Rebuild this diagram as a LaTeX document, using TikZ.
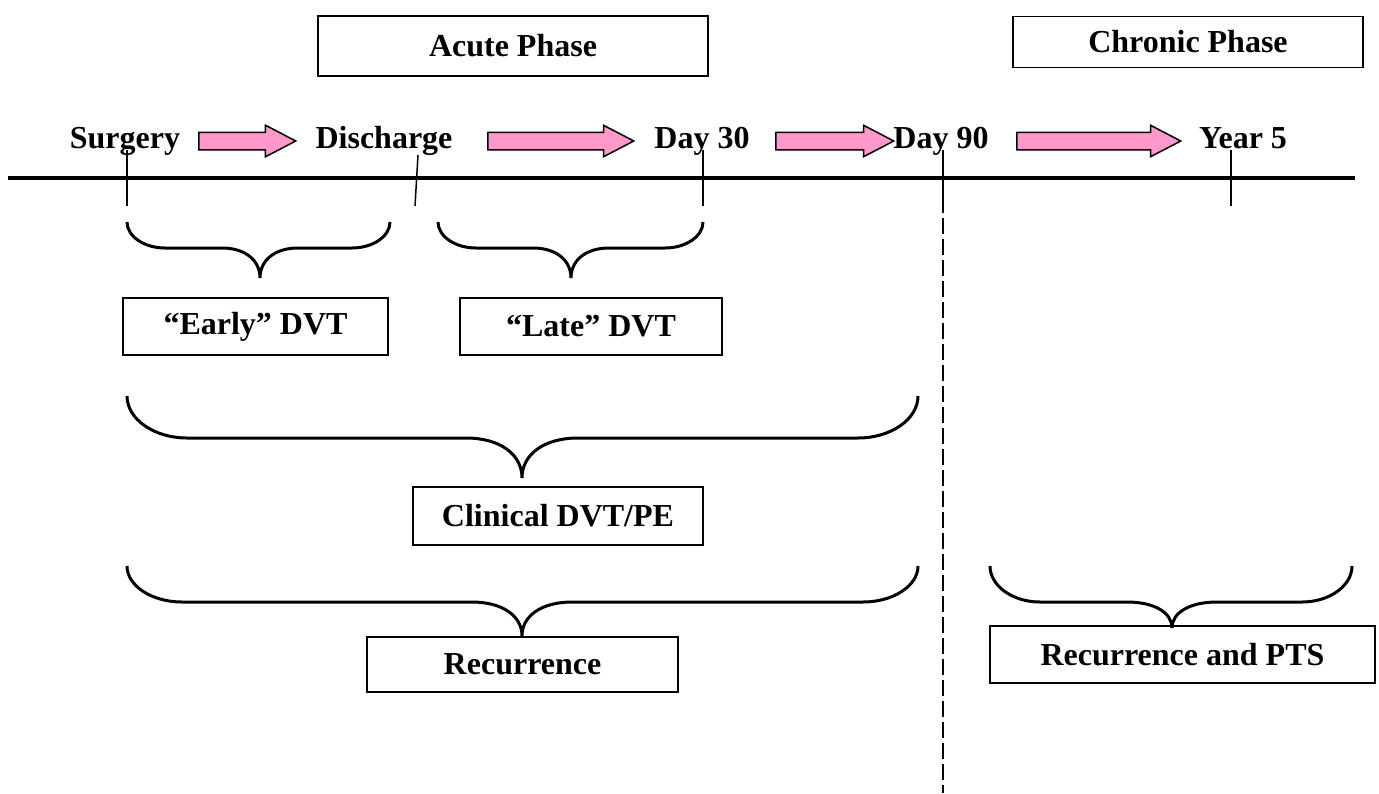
\documentclass[tikz,border=0pt]{standalone}
\usepackage{fontspec}
\setmainfont{Liberation Serif}
\usetikzlibrary{shapes.arrows}
\definecolor{arrowpink}{HTML}{FF99CC}
% left x, tip x, right x, top y, middle y, tip y, corner, tip width
\newcommand\curlybrace[8]{%
  \draw[brace line] (#1,#4) .. controls (#1,{#4+0.55*(#5-#4)}) and ({#1+0.45*#7},#5) .. ({#1+#7},#5)
    -- ({#2-#8},#5) .. controls ({#2-0.4*#8},#5) and (#2,{#5+0.4*(#6-#5)}) .. (#2,#6)
    .. controls (#2,{#5+0.4*(#6-#5)}) and ({#2+0.4*#8},#5) .. ({#2+#8},#5)
    -- ({#3-#7},#5) .. controls ({#3-0.45*#7},#5) and (#3,{#4+0.55*(#5-#4)}) .. (#3,#4);}

\begin{document}
\begin{tikzpicture}[x=1pt,y=-1pt,
  every node/.style={font=\fontsize{32}{38}\selectfont\bfseries},
  label/.style={anchor=base,inner sep=0pt},
  box/.style={draw,line width=1.5pt,inner sep=0pt},
  blockarrow/.style={single arrow,draw,fill=arrowpink,line width=1.5pt,
  inner xsep=0pt,inner ysep=8pt,text height=0pt,text depth=0pt,
  single arrow head extend=7pt,single arrow tip angle=55,anchor=tail},
  brace line/.style={line width=3pt},
  tick/.style={line width=1.5pt}]
\useasboundingbox (0,0) rectangle (1379,793);
% phases
\node[box,minimum width=390pt,minimum height=60pt] (acute) at (513,46) {Acute Phase};
\node[box,minimum width=350pt,minimum height=51pt] (chronic) at (1188,42) {Chronic Phase};
% time points
\node[label] (surgery) at (125,148) {Surgery};
\node[label] (discharge) at (384,148) {Discharge};
\node[label] (day30) at (702,148) {Day 30};
\node[label] (day90) at (941,148) {Day 90};
\node[label] (year5) at (1243,148) {Year 5};
\node[blockarrow,minimum height=97pt] (arr1) at (198,141) {};
\node[blockarrow,minimum height=146pt] (arr2) at (487,141) {};
\node[blockarrow,minimum height=118pt] (arr3) at (775,141) {};
\node[blockarrow,minimum height=164pt] (arr4) at (1016,141) {};
% axis and ticks
\draw[line width=4pt] (8,178) -- (1355,178);
\draw[tick] (127,150) -- (127,206);
\draw[tick] (418,155) -- (415,206);
\draw[tick] (703,150) -- (703,206);
\draw[tick] (1231,150) -- (1231,206);
\draw[tick] (943,150) -- (943,213);
\draw[tick,dash pattern=on 16pt off 5pt] (943,218) -- (943,793);
% braces
\curlybrace{127}{260}{390}{222}{248}{278}{38}{38}
\curlybrace{438}{571}{703}{222}{248}{278}{38}{38}
\curlybrace{127}{522}{918}{396}{438}{478}{60}{56}
\curlybrace{127}{522}{918}{566}{602}{636}{55}{50}
\curlybrace{990}{1172}{1352}{566}{602}{628}{50}{45}
% outcomes
\node[box,minimum width=265pt,minimum height=57pt] (early) at (255.5,326.5) {“Early” DVT};
\node[box,minimum width=262pt,minimum height=57pt] (late) at (591,326.5) {“Late” DVT};
\node[box,minimum width=290pt,minimum height=58pt] (clinical) at (558,516) {Clinical DVT/PE};
\node[box,minimum width=311pt,minimum height=55pt] (recur) at (522.5,664.5) {Recurrence};
\node[box,minimum width=385pt,minimum height=57pt] (recurpts) at (1182.5,654.5) {Recurrence and PTS};
\end{tikzpicture}
\end{document}
